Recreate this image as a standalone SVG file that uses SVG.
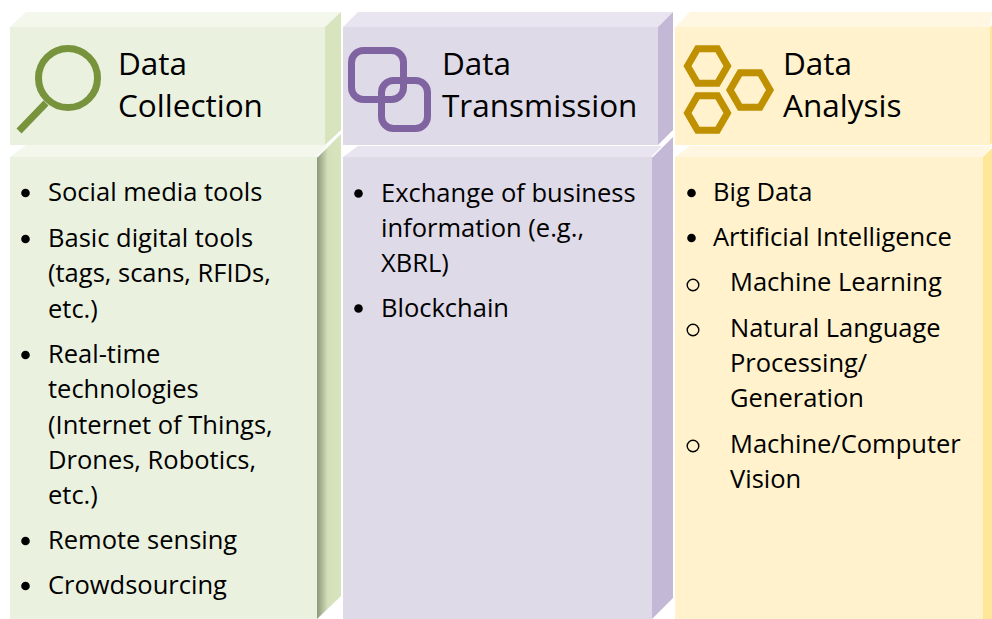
<svg xmlns="http://www.w3.org/2000/svg" width="992" height="619" viewBox="0 0 992 619">
<defs>
<style>
.t{font-family:"Open Sans","Noto Sans","Liberation Sans",sans-serif;fill:#000}
.h{font-size:31.5px}
.b{font-size:25.5px}
.g-front{fill:#EBF1DF}.g-top{fill:#F3F7EC}.g-side{fill:#D7E4BD}
.p-front{fill:#DFDAE8}.p-top{fill:#E9E5F0}.p-side{fill:#C3B8D6}
.y-front{fill:#FFF2CC}.y-top{fill:#FFF7E1}.y-side{fill:#FFE699}
.dot{fill:#000}
.ring{fill:none;stroke:#000;stroke-width:1.4}
</style>
<linearGradient id="gshadow" x1="317" y1="0" x2="341" y2="0" gradientUnits="userSpaceOnUse">
<stop offset="0" stop-color="#8C987C"/>
<stop offset="0.45" stop-color="#D3E0B9"/>
<stop offset="1" stop-color="#D7E4BD"/>
</linearGradient>
</defs>
<rect width="992" height="619" fill="#fff"/>

<!-- Column 1 : Data Collection -->
<g id="collection-body">
<polygon class="g-top" points="10,157 26,145 328,145 317,157"/>
<polygon points="317,157 341,133 341,596 317,619" fill="url(#gshadow)"/>
<rect class="g-front" x="10" y="157" width="307" height="462"/>
<g class="t b">
<circle class="dot" cx="25.5" cy="193" r="4.3"/>
<text x="48" y="201">Social media tools</text>
<circle class="dot" cx="25.5" cy="239" r="4.3"/>
<text x="48" y="247">Basic digital tools</text>
<text x="48" y="282">(tags, scans, RFIDs,</text>
<text x="48" y="318">etc.)</text>
<circle class="dot" cx="25.5" cy="355" r="4.3"/>
<text x="48" y="363">Real-time</text>
<text x="48" y="398">technologies</text>
<text x="48" y="434">(Internet of Things,</text>
<text x="48" y="469">Drones, Robotics,</text>
<text x="48" y="504">etc.)</text>
<circle class="dot" cx="25.5" cy="541" r="4.3"/>
<text x="48" y="549">Remote sensing</text>
<circle class="dot" cx="25.5" cy="586" r="4.3"/>
<text x="48" y="594">Crowdsourcing</text>
</g>
</g>
<g id="collection-header">
<polygon class="g-top" points="10,27 26,12 341,12 325,27"/>
<polygon class="g-side" points="325,27 341,12 341,130 325,145"/>
<rect class="g-front" x="10" y="27" width="315" height="118"/>
<line x1="317" y1="157" x2="341" y2="133" stroke="#fff" stroke-width="1.2"/>
<g fill="none" stroke="#77933C" stroke-width="7">
<circle cx="68" cy="78" r="29.5"/>
<line x1="46" y1="103" x2="19" y2="131" stroke-linecap="butt"/>
</g>
<text class="t h" x="118" y="75">Data</text>
<text class="t h" x="118" y="116.5">Collection</text>
</g>

<!-- Column 2 : Data Transmission -->
<g id="transmission-body">
<polygon class="p-top" points="343,157 358,146 662,146 652,157"/>
<polygon class="p-side" points="652,157 673,136 673,598 652,619"/>
<rect class="p-front" x="343" y="157" width="309" height="462"/>
<g class="t b">
<circle class="dot" cx="358.5" cy="193.5" r="4.3"/>
<text x="381" y="201.5">Exchange of business</text>
<text x="381" y="236.5">information (e.g.,</text>
<text x="381" y="271.5">XBRL)</text>
<circle class="dot" cx="358.5" cy="308.5" r="4.3"/>
<text x="381" y="316.5">Blockchain</text>
</g>
</g>
<g id="transmission-header">
<polygon class="p-top" points="343,27 358,12 673,12 658,27"/>
<polygon class="p-side" points="658,27 673,12 673,130 658,145"/>
<rect class="p-front" x="343" y="27" width="315" height="118"/>
<line x1="652" y1="157" x2="673" y2="136" stroke="#fff" stroke-width="1.2"/>
<g fill="none" stroke="#8064A2" stroke-width="7">
<rect x="351.5" y="50.5" width="52" height="49" rx="12"/>
<rect x="381.5" y="80.5" width="46" height="48" rx="12"/>
</g>
<text class="t h" x="442" y="75">Data</text>
<text class="t h" x="442" y="116.5">Transmission</text>
</g>

<!-- Column 3 : Data Analysis -->
<g id="analysis-body">
<polygon class="y-top" points="675,157 690,146 992,146 983,157"/>
<polygon class="y-side" points="983,157 992,148 992,619 983,619"/>
<rect class="y-front" x="675" y="157" width="308" height="462"/>
<g class="t b">
<circle class="dot" cx="691.5" cy="193" r="4.3"/>
<text x="713" y="201">Big Data</text>
<circle class="dot" cx="691.5" cy="238" r="4.3"/>
<text x="713" y="246">Artificial Intelligence</text>
<circle class="ring" cx="693" cy="285" r="5.8"/>
<text x="730" y="291">Machine Learning</text>
<circle class="ring" cx="693" cy="330" r="5.8"/>
<text x="730" y="337">Natural Language</text>
<text x="730" y="372">Processing/</text>
<text x="730" y="407">Generation</text>
<circle class="ring" cx="693" cy="446" r="5.8"/>
<text x="730" y="453">Machine/Computer</text>
<text x="730" y="488">Vision</text>
</g>
</g>
<g id="analysis-header">
<polygon class="y-top" points="675,27 690,12 992,12 990,27"/>
<polygon class="y-side" points="990,27 992,25 992,143 990,145"/>
<rect class="y-front" x="675" y="27" width="315" height="118"/>
<g fill="none" stroke="#BF9000" stroke-width="7">
<polygon points="687.5,66 697.5,48.7 717.5,48.7 727.5,66 717.5,83.3 697.5,83.3"/>
<polygon points="730,90 740,72.7 760,72.7 770,90 760,107.3 740,107.3"/>
<polygon points="687.5,113 697.5,95.7 717.5,95.7 727.5,113 717.5,130.3 697.5,130.3"/>
</g>
<text class="t h" x="783" y="75">Data</text>
<text class="t h" x="783" y="116.5">Analysis</text>
</g>
</svg>
